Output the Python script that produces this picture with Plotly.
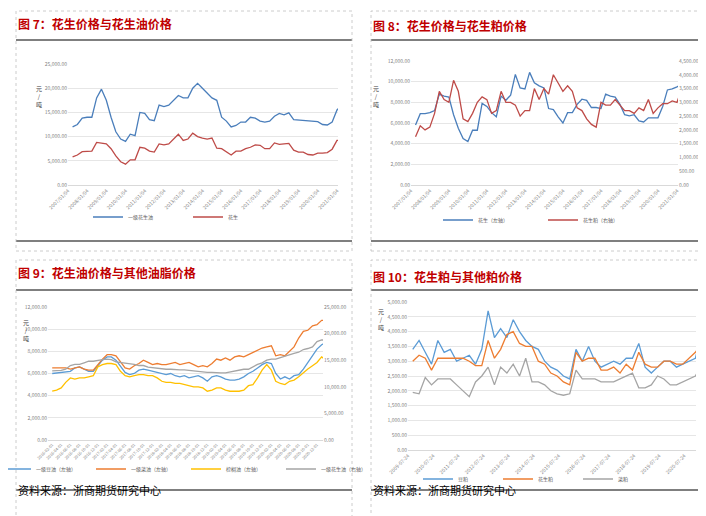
import pandas as pd
from plotly import graph_objects as go

W, H = 706, 516
FONT = "Noto Sans CJK SC"
TICK = dict(size=5, color="#7F7F7F")
GRID = "#E6E6E6"

# ---- Figure 7: peanut oil vs peanut (quarterly, 2007 - 2021) ----
F7_DATES = pd.date_range("2007-01-04", periods=59, freq="QS").strftime("%Y-%m-%d").tolist()
F7_OIL = [12000, 12500, 13800, 14000, 14000, 18000, 19800, 17500, 14000, 11000, 9500, 9000,
          10500, 10200, 15000, 14800, 13500, 13300, 16500, 16200, 16500, 17500, 18500, 18000,
          18000, 20000, 21000, 20000, 19000, 18000, 17500, 14000, 13200, 12000, 12300, 13000,
          13000, 14000, 13800, 13200, 13000, 13200, 14200, 14800, 14500, 14900, 13500, 13400,
          13300, 13200, 13200, 13100, 12500, 12400, 13000, 15500, 16500, 17500, 19500]
F7_PEANUT = [5800, 6200, 6900, 7000, 7000, 8800, 8700, 8500, 7500, 6000, 4800, 4300,
             5200, 5200, 7800, 7600, 7000, 6800, 8500, 8300, 8500, 9500, 10500, 9200,
             9500, 10700, 10000, 9700, 9500, 9700, 7600, 7500, 6800, 6200, 7000, 7000,
             7500, 7800, 8300, 8200, 7500, 7500, 8700, 8400, 8500, 8600, 7200, 6800,
             6800, 6300, 6200, 6600, 6600, 6700, 7400, 9200, 9300, 9400, 9800]
F7_TICKS = [f"{y}-01-04" for y in range(2007, 2022)]

# ---- Figure 8: peanut vs peanut meal ----
F8_DATES = pd.date_range("2007-01-04", periods=57, freq="QS").strftime("%Y-%m-%d").tolist()
F8_PEANUT = [5800, 6900, 6900, 7000, 7200, 8800, 8600, 8500, 6800, 5500, 4500, 4200,
             5300, 5300, 7900, 7600, 7000, 6600, 8600, 8200, 8700, 10700, 9400, 9300,
             10900, 9900, 9600, 9400, 7400, 7300, 6600, 6000, 7000, 7000, 7800, 8300,
             8200, 7500, 7500, 7400, 8800, 8600, 8500, 7800, 6800, 6700, 6800, 6200,
             6100, 6500, 6500, 6500, 7600, 9200, 9300, 9500, 9800]
F8_MEAL = [1750, 2150, 2000, 2100, 2600, 3400, 3100, 3000, 3800, 3400, 2400, 2300,
           2600, 3000, 3200, 3100, 2600, 2700, 3400, 3000, 3000, 2900, 2500, 2700,
           2700, 3500, 3100, 3500, 3300, 4000, 3700, 3400, 3600, 3400, 2800, 2700,
           2400, 2200, 2100, 3000, 2900, 2900, 3100, 2900, 2700, 2700, 2600, 2800,
           2700, 3100, 2600, 2800, 2950, 2950, 3050, 3000, 3500]

# ---- Figure 9: peanut oil vs other oils (monthly) ----
F9_DATES = pd.date_range("2016-01-04", periods=61, freq="MS").strftime("%Y-%m-%d").tolist()
F9_SOY = [6000, 6050, 6100, 6100, 6200, 6500, 6600, 6400, 6200, 6200, 6700, 7200,
          7500, 7500, 7200, 6700, 6100, 5900, 6000, 6300, 6400, 6300, 6200, 6100,
          6000, 5900, 6000, 5800, 5700, 5800, 5600, 5700, 5800, 5600, 5300, 5700,
          5800, 5700, 5500, 5400, 5400, 5500, 5700, 6000, 6200, 6500, 6800, 7000,
          6900, 6000, 5500, 5700, 5500, 5800, 5900, 6400, 7000, 7600, 8200, 8600, 8800]
F9_RAPE = [6500, 6500, 6500, 6500, 6400, 6500, 6600, 6400, 6300, 6300, 6800, 7300,
           7700, 7700, 7600, 7000, 6500, 6400, 6700, 6900, 7200, 7000, 6800, 6900,
           6800, 6800, 6900, 7000, 6800, 6900, 7000, 6800, 6600, 6700, 6600, 6900,
           7300, 7200, 7400, 7200, 7500, 7600, 7500, 7700, 7900, 8100, 8300, 8400,
           8500, 7600, 7700, 7600, 8000, 8400, 9200, 9800, 9900, 10300, 10400, 10800, 10800]
F9_PALM = [4400, 4500, 4700, 5200, 5600, 5500, 5600, 5600, 5700, 5800, 6600, 6800,
           6900, 6900, 6800, 6200, 5800, 5700, 5800, 5900, 5900, 5800, 5800, 5600,
           5300, 5200, 5200, 5100, 5100, 5000, 4900, 4800, 4800, 4700, 4400, 4500,
           4700, 4700, 4500, 4400, 4400, 4400, 4500, 4900, 5000, 5600, 6300, 6800,
           6300, 5300, 5100, 5000, 5300, 5400, 5700, 6100, 6400, 6700, 7000, 7500, 7200]
F9_PEANUT_OIL = [13000, 13000, 13100, 13300, 14000, 14200, 14200, 14500, 14800, 14800, 15000, 15100,
                 15200, 15100, 14700, 14600, 14400, 14300, 14200, 14000, 14000, 13700, 13600, 13400,
                 13300, 13300, 13300, 13200, 13200, 13200, 13100, 13000, 12800, 12700, 12700, 12700,
                 12600, 12600, 12600, 12800, 13000, 13200, 13300, 13300, 13800, 14200, 14500, 15000,
                 15200, 15200, 15500, 15800, 16000, 16300, 16500, 17000, 17200, 17500, 18500, 18800, 18800]
F9_TICKS = pd.date_range("2016-01-04", periods=31, freq="2MS").strftime("%Y-%m-%d").tolist()

# ---- Figure 10: peanut meal vs other meals (quarterly) ----
F10_DATES = pd.date_range("2009-07-24", periods=47, freq="QS").strftime("%Y-%m-%d").tolist()
F10_SOY = [3400, 3700, 3300, 2900, 3700, 3300, 3400, 3000, 3100, 3200, 2900, 3400, 4700, 3800,
           4100, 3800, 4400, 4000, 3700, 3500, 3400, 3000, 2800, 2700, 2500, 2400, 3400, 3000,
           3500, 3000, 2800, 2900, 3000, 2900, 3100, 3100, 3600, 2800, 2600, 2800, 3000, 3000,
           2800, 2900, 3000, 3100, 3900]
F10_PEANUT = [3000, 3200, 3100, 2700, 3100, 3100, 3100, 3100, 3100, 3000, 2850, 2850, 3700, 3100,
              3400, 3900, 4000, 3600, 3500, 3500, 3000, 2900, 2600, 2500, 2300, 2200, 3300, 3000,
              3100, 3100, 2700, 2700, 2800, 2600, 2900, 2700, 3300, 2900, 2800, 2800, 3000, 3000,
              2900, 2900, 3100, 3300, 3600]
F10_RAPE = [1950, 1900, 2450, 2200, 2400, 2400, 2400, 2200, 2000, 1800, 2300, 2500, 2800, 2200,
            2800, 2600, 2900, 2500, 3100, 2300, 2300, 2200, 2000, 1900, 1850, 1900, 2700, 2400,
            2400, 2400, 2300, 2300, 2300, 2400, 2500, 2600, 2100, 2100, 2200, 2500, 2400, 2200,
            2200, 2300, 2400, 2500, 2900]
F10_TICKS = [f"{y}-07-24" for y in range(2009, 2021)]


def px(x):
    return x / W


def py(y):
    return 1 - y / H


fig = go.Figure()


def line(x, y, name, color, xa, ya, legend):
    fig.add_trace(go.Scatter(x=x, y=y, name=name, mode="lines", xaxis=xa, yaxis=ya,
                             line=dict(color=color, width=1.3), legend=legend))


line(F7_DATES, F7_OIL, "一级花生油", "#4A7EBB", "x", "y", "legend")
line(F7_DATES, F7_PEANUT, "花生", "#BE4B48", "x", "y", "legend")
line(F8_DATES, F8_PEANUT, "花生（左轴）", "#4A7EBB", "x2", "y2", "legend2")
line(F8_DATES, F8_MEAL, "花生粕（右轴）", "#BE4B48", "x2", "y3", "legend2")
line(F9_DATES, F9_SOY, "一级豆油（左轴）", "#5B9BD5", "x3", "y4", "legend3")
line(F9_DATES, F9_RAPE, "一级菜油（左轴）", "#ED7D31", "x3", "y4", "legend3")
line(F9_DATES, F9_PALM, "棕榈油（左轴）", "#FFC000", "x3", "y4", "legend3")
line(F9_DATES, F9_PEANUT_OIL, "一级花生油（右轴）", "#A5A5A5", "x3", "y5", "legend3")
line(F10_DATES, F10_SOY, "豆粕", "#5B9BD5", "x4", "y6", "legend4")
line(F10_DATES, F10_PEANUT, "花生粕", "#ED7D31", "x4", "y6", "legend4")
line(F10_DATES, F10_RAPE, "菜粕", "#A5A5A5", "x4", "y6", "legend4")


def xaxis(x0, x1, ticks, rng, anchor, fmt):
    return dict(domain=[px(x0), px(x1)], anchor=anchor, type="date", range=rng,
                tickvals=ticks, tickformat=fmt, tickangle=-45, tickfont=TICK,
                showgrid=False, showline=True, linecolor="#D9D9D9", ticks="",
                automargin=False)


def yaxis(y0, y1, rng, dtick, anchor, side="left", grid=True, overlay=None):
    d = dict(domain=[py(y1), py(y0)], anchor=anchor, range=rng, dtick=dtick,
             tickformat=",.2f", tickfont=TICK, showgrid=grid, gridcolor=GRID,
             zeroline=False, side=side, ticks="", automargin=False)
    if overlay:
        d["overlaying"] = overlay
    return d


fig.update_layout(
    xaxis=xaxis(60, 330, F7_TICKS, ["2007-01-04", "2021-01-20"], "y", "%Y/%m/%d"),
    yaxis=yaxis(56, 177, [0, 25000], 5000, "x"),
    xaxis2=xaxis(403, 670, F7_TICKS, ["2007-01-04", "2021-01-20"], "y2", "%Y/%m/%d"),
    yaxis2=yaxis(53, 177, [0, 12000], 2000, "x2"),
    yaxis3=yaxis(53, 177, [0, 4500], 500, "x2", side="right", grid=False, overlay="y2"),
    xaxis3=xaxis(40, 315, F9_TICKS, ["2016-01-04", "2021-01-10"], "y4", "%Y-%m-%d"),
    yaxis4=yaxis(299, 432, [0, 12000], 2000, "x3"),
    yaxis5=yaxis(299, 432, [0, 25000], 5000, "x3", side="right", grid=False, overlay="y4"),
    xaxis4=xaxis(400, 688, F10_TICKS, ["2009-07-24", "2021-01-10"], "y6", "%Y-%m-%d"),
    yaxis6=yaxis(294, 442, [0, 5000], 500, "x4"),
)
fig.update_xaxes(tickfont_size=4, selector=dict(anchor="y4"))

LEG = dict(orientation="h", xanchor="center", yanchor="middle", font=dict(size=5, color="#595959"),
           bgcolor="rgba(0,0,0,0)", entrywidthmode="pixels", tracegroupgap=0,
           itemwidth=30)
fig.update_layout(
    legend=dict(LEG, x=px(180), y=py(209), entrywidth=55),
    legend2=dict(LEG, x=px(535), y=py(212), entrywidth=60),
    legend3=dict(LEG, x=px(178), y=py(461), entrywidth=50),
    legend4=dict(LEG, x=px(530), y=py(471), entrywidth=35),
)

# titles, axis unit labels and source lines
titles = [("图 7：花生价格与花生油价格", 8, 15), ("图 8：花生价格与花生粕价格", 363, 17),
          ("图 9：花生油价格与其他油脂价格", 8, 264), ("图 10：花生粕与其他粕价格", 363, 268)]
for text, x, y in titles:
    fig.add_annotation(text=f"<b>{text}</b>", x=px(x), y=py(y), xref="paper", yref="paper",
                       xanchor="left", yanchor="middle", showarrow=False,
                       font=dict(size=12, color="#C00000", family=FONT))
for x, y in [(26, 74), (368, 74), (13, 322), (373, 311)]:
    fig.add_annotation(text="元<br>/<br>吨", x=px(x), y=py(y), xref="paper", yref="paper",
                       showarrow=False, font=dict(size=6, color="#404040", family=FONT))
for x in (8, 363):
    fig.add_annotation(text="资料来源：浙商期货研究中心", x=px(x), y=py(492), xref="paper",
                       yref="paper", xanchor="left", showarrow=False,
                       font=dict(size=11, color="#000000", family=FONT))

shapes = []
for x0, x1 in ((8, 344), (363, 697)):
    for y in (32, 233, 282, 482):
        shapes.append(dict(type="line", xref="paper", yref="paper", x0=px(x0), x1=px(x1),
                           y0=py(y), y1=py(y), line=dict(color="#000000", width=1.2)))
    for y0, y1 in ((3, 243), (252, 510)):
        shapes.append(dict(type="rect", xref="paper", yref="paper", x0=px(x0), x1=px(x1),
                           y0=py(y1), y1=py(y0), line=dict(color="#BFBFBF", width=0.8, dash="dot")))
fig.update_layout(shapes=shapes)

fig.update_layout(width=W, height=H, margin=dict(l=0, r=0, t=0, b=0, autoexpand=False),
                  plot_bgcolor="white", paper_bgcolor="white",
                  font=dict(family=FONT), showlegend=True)
fig.write_html("out.html", config={"displayModeBar": False})
